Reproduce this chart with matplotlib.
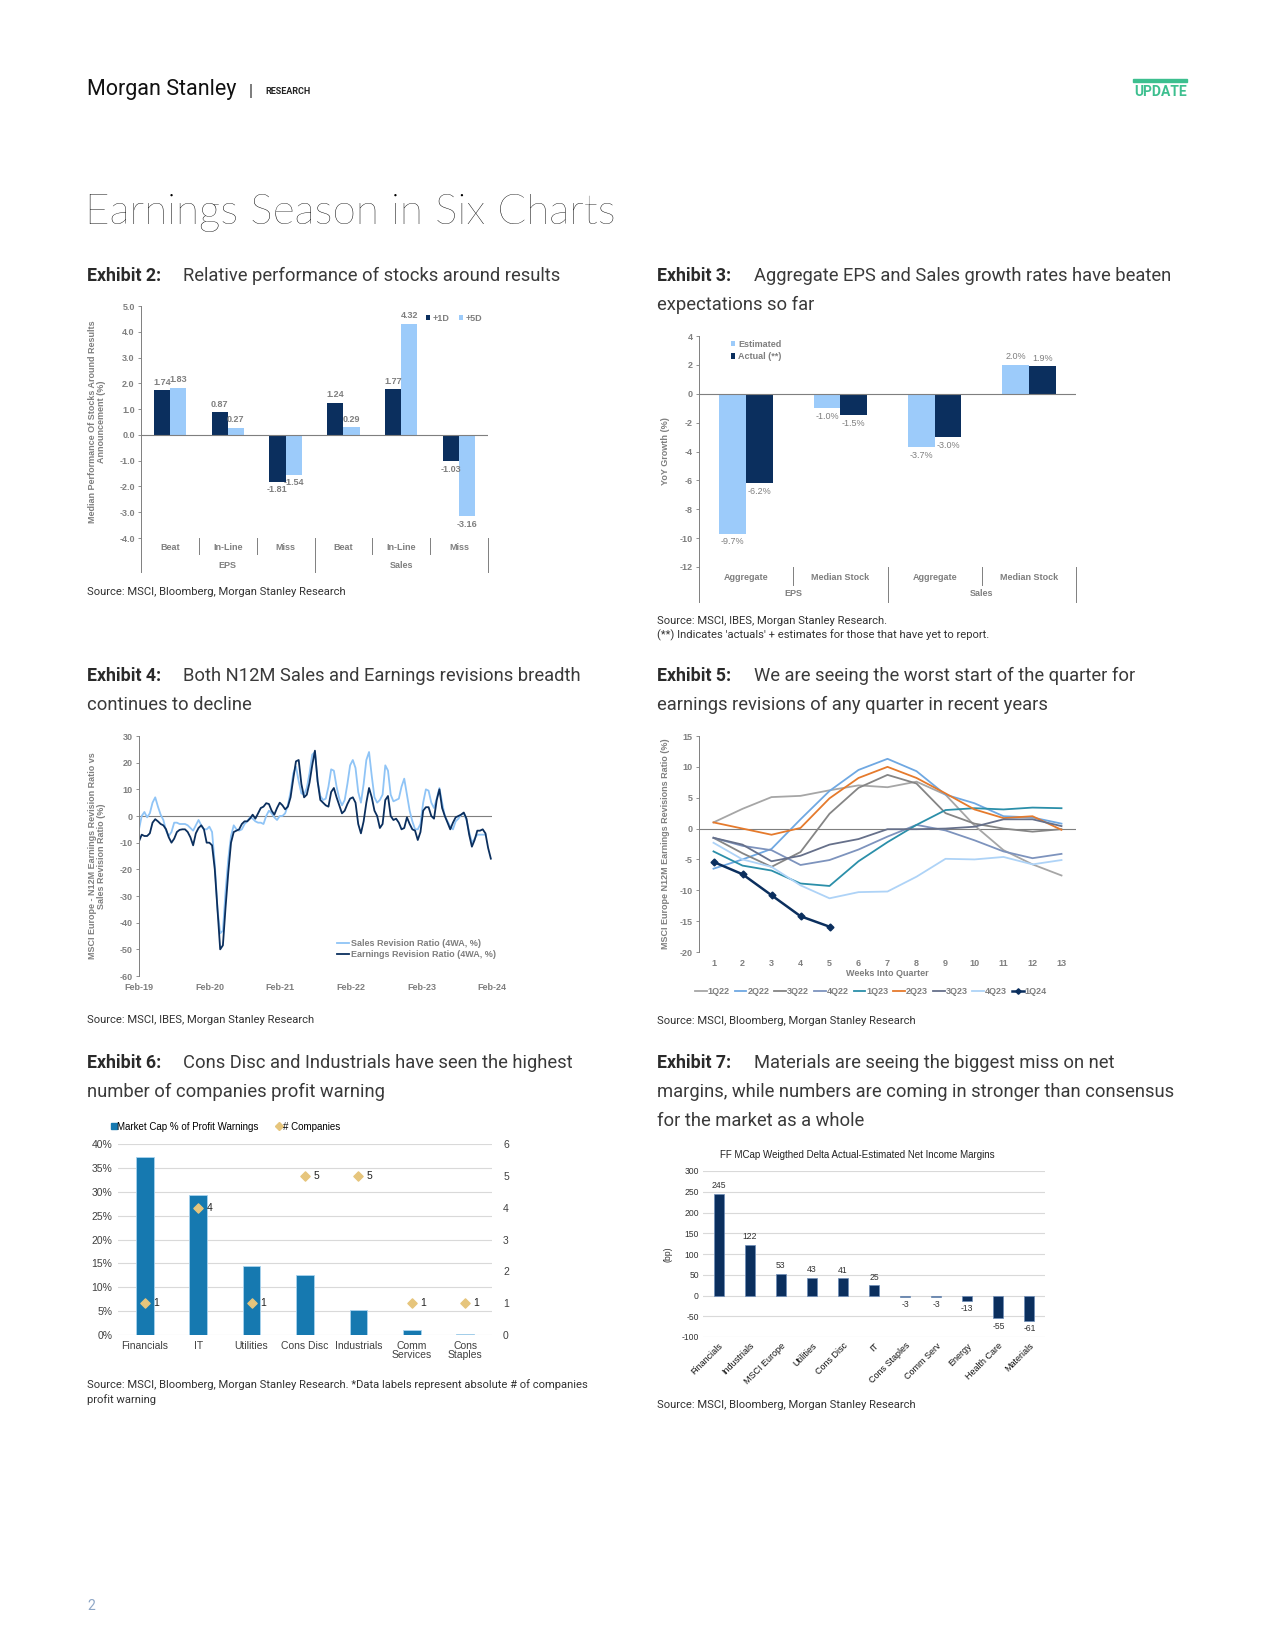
import matplotlib.pyplot as plt
import matplotlib.transforms as mtransforms
from matplotlib.lines import Line2D
from matplotlib.patches import Rectangle
import numpy as np
import pandas as pd

# ---------------- data ----------------
# Exhibit 2
ex2_cats = ['Beat', 'In-Line', 'Miss', 'Beat', 'In-Line', 'Miss']
ex2_groups = ['EPS', 'Sales']
ex2_1d = [1.74, 0.87, -1.81, 1.24, 1.77, -1.03]
ex2_5d = [1.83, 0.27, -1.54, 0.29, 4.32, -3.16]

# Exhibit 3
ex3_cats = ['Aggregate', 'Median Stock', 'Aggregate', 'Median Stock']
ex3_groups = ['EPS', 'Sales']
ex3_est = [-9.7, -1.0, -3.7, 2.0]
ex3_act = [-6.2, -1.5, -3.0, 1.9]

# Exhibit 4 - fortnightly readings starting Feb-19
ex4_start = '2019-02-01'
ex4_earn = [-9.5, -7, -7.5, -7.5, -6.5, -2.5, -1.2, -2, -3, -3.5,
            -5, -8, -10, -8.5, -6, -5.2, -5, -5, -6, -8,
            -11, -6.5, -4.5, -3.5, -5, -10, -10, -11, -20, -35,
            -50, -48.5, -34, -21, -10, -6, -5.5, -5, -3, -2,
            -2, -1, 0.5, -1, 1, 3, 3.5, 4.8, 4.5, 2,
            0.5, 3, 5, 4, 2.5, 3.5, 7, 14, 20.5, 21,
            12, 7, 8, 12.5, 19, 24.5, 13, 6, 5, 4,
            3.5, 9, 10.5, 7, 4, 1, 2, 4.5, 6.5, 7,
            5, -3, -6.5, -2, 5, 10.5, 7, 2, 0, -4.5,
            -3, 6, 7.5, 0, -1.5, -1, -2.5, -5, -4.5, -0.5,
            -3, -5, -5.5, -9, -6, 2, 3.3, 3.3, 0, -1,
            6, 10, 3, 0, -2.5, -5, -2.5, -0.5, 0, 0.5,
            1.3, -1, -7, -11.5, -9, -5.5, -5.5, -5, -6.5, -12,
            -16]
ex4_sales = [-5, 0, 1.5, -0.5, 1, 5, 7, 3.5, 0.5, -1.5,
             -5.5, -7.5, -6, -2.5, -2.5, -3, -3, -3, -3.5, -4.5,
             -5.5, -3.5, -1.5, -3.5, -5, -5, -4, -6, -18, -35,
             -44, -43, -28, -16, -7.5, -3.5, -5, -5.5, -5, -3,
             -2, -0.5, -1, -2, -2.5, -2.5, -3, 0, 2, 1,
             -0.5, -1.5, 0, 0, 1, 4, 9, 16, 18.5, 13,
             8.5, 8, 10.5, 16, 23, 24, 13, 7.5, 6, 6.5,
             11, 17.5, 17, 11, 6.5, 4, 6, 12, 19, 21,
             18, 9, 5, 12, 21, 24, 15, 7, 5, 6,
             8, 19, 17, 8, 5.5, 6, 6.5, 11, 14, 8,
             2, -2, -5, -5, -3, 5, 10, 9.5, 5, 3,
             6.5, 10.5, 5, 0, -2, -4, -5, -2, -1, 0.5,
             1, -1.5, -6, -10, -8.5, -7, -7, -7, -7]

# Exhibit 5
ex5_weeks = list(range(1, 14))
q1_22 = [1, 3.2, 5.1, 5.3, 6.2, 7, 6.7, 7.6, 5.5, 0.5, -3.5, -5.8, -7.6]
q2_22 = [-6.5, -5, -3.3, 1.5, 6.1, 9.5, 11.3, 9.3, 5.5, 4.1, 2, 1.8, 0.8]
q3_22 = [-1.5, -4, -6.2, -3.8, 2.4, 6.6, 8.7, 7.3, 2.5, 0.8, 0, -0.5, -0.1]
q4_22 = [-1.5, -2.8, -3.5, -5.9, -5.1, -3.4, -1.3, 0.6, -0.3, -1.9, -3.7, -4.8, -4.1]
q1_23 = [-3.7, -6, -6.8, -8.9, -9.3, -5.3, -2.2, 0.6, 3, 3.3, 3.1, 3.4, 3.3]
q2_23 = [1, 0, -1, 0.1, 4.9, 8.2, 10, 8.2, 5.7, 3.1, 1.7, 2, -0.2]
q3_23 = [-1.5, -2.6, -5.3, -4.4, -2.6, -1.7, -0.1, -0.1, 0, 0.3, 1.5, 1.5, 0.4]
q4_23 = [-2.3, -5, -6.2, -9.2, -11.3, -10.3, -10.2, -7.8, -4.9, -5, -4.6, -5.8, -5.1]
q1_24 = [-5.4, -7.4, -10.8, -14.2, -15.9]
ex5_names = ['1Q22', '2Q22', '3Q22', '4Q22', '1Q23', '2Q23', '3Q23', '4Q23', '1Q24']

# Exhibit 6
ex6_cats = ['Financials', 'IT', 'Utilities', 'Cons Disc', 'Industrials',
            'Comm\nServices', 'Cons\nStaples']
ex6_mcap = [0.373, 0.293, 0.144, 0.126, 0.053, 0.011, 0.003]
ex6_count = [1, 4, 1, 5, 5, 1, 1]

# Exhibit 7
ex7_cats = ['Financials', 'Industrials', 'MSCI Europe', 'Utilities', 'Cons Disc', 'IT',
            'Cons Staples', 'Comm Serv', 'Energy', 'Health Care', 'Materials']
ex7_vals = [245, 122, 53, 43, 41, 25, -3, -3, -13, -55, -61]

# ---------------- style ----------------
plt.rcParams['font.family'] = ['Liberation Sans', 'DejaVu Sans']
NAVY = '#0b2f5e'
LIGHT = '#9ccbfa'
GRAY = '#7f7f7f'
HEAD = ['Roboto', 'DejaVu Sans']

W, H = 1275, 1650
fig = plt.figure(figsize=(W / 100, H / 100), dpi=100)


def add_ax(l, t, r, b):
    return fig.add_axes([l / W, 1 - b / H, (r - l) / W, (b - t) / H])


def ftext(x, y, s, **kw):
    kw.setdefault('va', 'center')
    return fig.text(x / W, 1 - y / H, s, **kw)


def heading(x, x2, y, num, lines):
    ftext(x, y, f'Exhibit {num}:', fontsize=12.8, weight='bold', family=HEAD, color='#2a2a2a')
    ftext(x2, y, lines[0], fontsize=13.2, family=HEAD, color='#3a3a3a')
    for i, ln in enumerate(lines[1:]):
        ftext(x, y + 29 * (i + 1), ln, fontsize=13.2, family=HEAD, color='#3a3a3a')


def source(x, y, s):
    ftext(x, y, s, fontsize=8.1, family=HEAD, color='#333333')


def grouped_axis(ax, cats, groups, h_px, cat_off, grp_off, short, long_):
    tr = mtransforms.blended_transform_factory(ax.transData, ax.transAxes)
    n = len(cats)
    per = n // len(groups)
    for i, c in enumerate(cats):
        ax.text(i, -cat_off / h_px, c, transform=tr, ha='center', va='center',
                fontsize=6.5, weight='bold', color=GRAY)
    for g, name in enumerate(groups):
        ax.text(g * per + (per - 1) / 2, -grp_off / h_px, name, transform=tr,
                ha='center', va='center', fontsize=6.5, weight='bold', color=GRAY)
    for b in np.arange(-0.5, n, 1):
        ln = long_ if (b + 0.5) % per == 0 else short
        ax.plot([b, b], [0, -ln / h_px], transform=tr, color=GRAY, lw=0.7, clip_on=False)


def bar_labels(ax, xs, vals, fmt, size=6.5, weight='bold', color=GRAY):
    for xx, v in zip(xs, vals):
        ax.annotate(fmt.format(v), (xx, v), xytext=(0, 2.5 if v >= 0 else -2.5),
                    textcoords='offset points', ha='center',
                    va='bottom' if v >= 0 else 'top', fontsize=size, weight=weight, color=color)


def gray_axes(ax):
    for s in ['top', 'right', 'bottom']:
        ax.spines[s].set_visible(False)
    ax.spines['left'].set_color(GRAY)
    ax.spines['left'].set_linewidth(0.7)
    ax.tick_params(axis='y', length=2.5, width=0.6, color=GRAY, pad=2)
    ax.tick_params(axis='x', length=0)


# ---------------- header ----------------
ftext(87, 90, 'Morgan Stanley', fontsize=15.5, family=HEAD, color='#111111')
ftext(249, 91, '|', fontsize=12, family=HEAD, color='#333333')
ftext(265, 91, 'RESEARCH', fontsize=6.5, weight='bold', family=HEAD, color='#222222')
fig.add_artist(Rectangle((1133 / W, 1 - 82 / H), 54 / W, 3 / H, color='#3dbf8f', transform=fig.transFigure))
ftext(1187, 92, 'UPDATE', fontsize=10, weight='bold', family=HEAD, color='#3dbf8f', ha='right')
ftext(85, 213, 'Earnings Season in Six Charts', fontsize=30.5, family=['Lato', 'Open Sans'],
      weight='light', color='#000000')

# ---------------- Exhibit 2 ----------------
heading(87, 183, 276, 2, ['Relative performance of stocks around results'])
ax = add_ax(141, 306, 488, 538)
x = np.arange(len(ex2_cats))
w = 0.28
ax.bar(x - w / 2, ex2_1d, w, color=NAVY, label='+1D')
ax.bar(x + w / 2, ex2_5d, w, color=LIGHT, label='+5D')
ax.axhline(0, color=GRAY, lw=0.8)
ax.set_xlim(-0.5, len(ex2_cats) - 0.5)
ax.set_ylim(-4, 5)
yt = np.arange(-4, 5.01, 1)
ax.set_yticks(yt, labels=[f'{v:.1f}' for v in yt], fontsize=6.5, weight='bold', color=GRAY)
ax.set_xticks([])
gray_axes(ax)
bar_labels(ax, x - w / 2, ex2_1d, '{:.2f}')
bar_labels(ax, x + w / 2, ex2_5d, '{:.2f}')
grouped_axis(ax, ex2_cats, ex2_groups, 232, 10, 27, 16, 34)
ax.set_ylabel('Median Performance Of Stocks Around Results\nAnnouncement (%)',
              fontsize=6.5, weight='bold', color=GRAY, linespacing=1.0)
ax.yaxis.set_label_coords(-0.1, 0.5)
ax.legend(ncol=2, loc='upper right', bbox_to_anchor=(1.0, 0.99), frameon=False,
          prop={'size': 6.5, 'weight': 'bold'}, labelcolor=GRAY, handlelength=0.5,
          handleheight=0.5, columnspacing=1.0, handletextpad=0.3, borderaxespad=0.2)
source(87, 592, 'Source: MSCI, Bloomberg, Morgan Stanley Research')

# ---------------- Exhibit 3 ----------------
heading(657, 754, 276, 3, ['Aggregate EPS and Sales growth rates have beaten', 'expectations so far'])
ax = add_ax(699, 336, 1076, 567)
x = np.arange(len(ex3_cats))
w = 0.285
ax.bar(x - w / 2, ex3_est, w, color=LIGHT, label='Estimated')
ax.bar(x + w / 2, ex3_act, w, color=NAVY, label='Actual (**)')
ax.axhline(0, color=GRAY, lw=0.8)
ax.set_xlim(-0.5, len(ex3_cats) - 0.5)
ax.set_ylim(-12, 4)
yt = np.arange(-12, 4.01, 2)
ax.set_yticks(yt, labels=[f'{v:.0f}' for v in yt], fontsize=6.5, weight='bold', color=GRAY)
ax.set_xticks([])
gray_axes(ax)
bar_labels(ax, x - w / 2, ex3_est, '{:.1f}%', weight='normal')
bar_labels(ax, x + w / 2, ex3_act, '{:.1f}%', weight='normal')
grouped_axis(ax, ex3_cats, ex3_groups, 231, 10, 27, 18, 35)
ax.set_ylabel('YoY Growth (%)', fontsize=6.5, weight='bold', color=GRAY)
ax.yaxis.set_label_coords(-0.077, 0.5)
ax.legend(loc='upper left', bbox_to_anchor=(0.075, 1.0), frameon=False,
          prop={'size': 6.5, 'weight': 'bold'}, labelcolor=GRAY, handlelength=0.5,
          handleheight=0.5, handletextpad=0.3, labelspacing=0.4, borderaxespad=0.0)
source(657, 621, 'Source: MSCI, IBES, Morgan Stanley Research.')
source(657, 635, "(**) Indicates 'actuals' + estimates for those that have yet to report.")

# ---------------- Exhibit 4 ----------------
heading(87, 183, 676, 4, ['Both N12M Sales and Earnings revisions breadth', 'continues to decline'])
ax = add_ax(139, 736, 492, 976)
d_earn = pd.date_range(ex4_start, periods=len(ex4_earn), freq='14D')
d_sales = pd.date_range(ex4_start, periods=len(ex4_sales), freq='14D')
ax.axhline(0, color=GRAY, lw=0.8)
ax.plot(d_sales, ex4_sales, color='#8fc4f6', lw=1.3, label='Sales Revision Ratio (4WA, %)')
ax.plot(d_earn, ex4_earn, color=NAVY, lw=1.3, label='Earnings Revision Ratio (4WA, %)')
ax.set_xlim(pd.Timestamp('2019-02-01'), pd.Timestamp('2024-02-01'))
ax.set_ylim(-60, 30)
yt = np.arange(-60, 30.1, 10)
ax.set_yticks(yt, labels=[f'{v:.0f}' for v in yt], fontsize=6.5, weight='bold', color=GRAY)
xt = pd.date_range('2019-02-01', '2024-02-01', freq='12MS')
ax.set_xticks(xt, labels=[d.strftime('%b-%y') for d in xt], fontsize=6.5, weight='bold', color=GRAY)
gray_axes(ax)
ax.tick_params(axis='x', pad=5)
ax.set_ylabel('MSCI Europe - N12M Earnings Revision Ratio vs\nSales Revision Ratio (%)',
              fontsize=6.5, weight='bold', color=GRAY, linespacing=1.0)
ax.yaxis.set_label_coords(-0.093, 0.5)
ax.legend(loc='upper left', bbox_to_anchor=(0.56, 0.155), frameon=False,
          prop={'size': 6.5, 'weight': 'bold'}, labelcolor=GRAY, handlelength=1.4,
          handletextpad=0.2, labelspacing=0.25, borderaxespad=0.0, borderpad=0.0)
source(87, 1020, 'Source: MSCI, IBES, Morgan Stanley Research')

# ---------------- Exhibit 5 ----------------
heading(657, 754, 676, 5, ['We are seeing the worst start of the quarter for',
                           'earnings revisions of any quarter in recent years'])
ax = add_ax(699, 736, 1076, 952)
ax.axhline(0, color=GRAY, lw=0.8)
ex5_series = [q1_22, q2_22, q3_22, q4_22, q1_23, q2_23, q3_23, q4_23]
ex5_colors = ['#a6a6a6', '#6fa8e2', '#858585', '#7d93bd', '#2b8fa9', '#e57a2c', '#66708a', '#aed3f7']
for name, vals, col in zip(ex5_names[:-1], ex5_series, ex5_colors):
    ax.plot(ex5_weeks[:len(vals)], vals, color=col, lw=1.3, label=name)
ax.plot(ex5_weeks[:len(q1_24)], q1_24, color=NAVY, lw=1.8, marker='D', ms=3.5, label=ex5_names[-1])
ax.set_xlim(0.5, 13.5)
ax.set_ylim(-20, 15)
yt = np.arange(-20, 15.1, 5)
ax.set_yticks(yt, labels=[f'{v:.0f}' for v in yt], fontsize=6.5, weight='bold', color=GRAY)
ax.set_xticks(ex5_weeks, labels=[str(v) for v in ex5_weeks], fontsize=6.5, weight='bold', color=GRAY)
gray_axes(ax)
ax.tick_params(axis='x', pad=5)
ax.set_xlabel('Weeks Into Quarter', fontsize=6.5, weight='bold', color=GRAY, labelpad=1)
ax.set_ylabel('MSCI Europe N12M Earnings Revisions Ratio (%)', fontsize=6.5, weight='bold', color=GRAY)
ax.yaxis.set_label_coords(-0.077, 0.5)
ax.legend(ncol=9, loc='center', bbox_to_anchor=(0.456, -0.185), frameon=False,
          prop={'size': 6.5, 'weight': 'bold'}, labelcolor=GRAY, handlelength=1.3,
          handletextpad=0.1, columnspacing=0.55, borderaxespad=0.0, markerscale=0.8)
source(657, 1021, 'Source: MSCI, Bloomberg, Morgan Stanley Research')

# ---------------- Exhibit 6 ----------------
heading(87, 183, 1063, 6, ['Cons Disc and Industrials have seen the highest',
                           'number of companies profit warning'])
ax = add_ax(118, 1144, 492, 1335)
x = np.arange(len(ex6_cats))
ax.bar(x, ex6_mcap, 0.33, color='#1679b0', edgecolor='#a9d3ee', lw=0.6, zorder=3,
       label='Market Cap % of Profit Warnings')
ax.set_xlim(-0.5, len(ex6_cats) - 0.5)
ax.set_ylim(0, 0.4)
yt = np.arange(0, 0.401, 0.05)
ax.set_yticks(yt, labels=[f'{v:.0%}' for v in yt], fontsize=7.5, color='#404040')
ax.set_xticks(x, labels=ex6_cats, fontsize=7.5, color='#404040', linespacing=0.95)
ax.grid(axis='y', color='#d9d9d9', lw=0.8, zorder=0)
ax.set_axisbelow(True)
for s in ax.spines.values():
    s.set_visible(False)
ax.tick_params(length=0, pad=4)
ax2 = ax.twinx()
ax2.scatter(x, ex6_count, marker='D', s=22, color='#e6c57c', zorder=4, label='# Companies')
for xx, c in zip(x, ex6_count):
    ax2.annotate(str(c), (xx, c), xytext=(6, 0), textcoords='offset points', va='center',
                 fontsize=7.5, color='#222222')
ax2.set_ylim(0, 6)
ax2.set_yticks(range(7), labels=[str(v) for v in range(7)], fontsize=7.5, color='#404040')
for s in ax2.spines.values():
    s.set_visible(False)
ax2.tick_params(length=0, pad=8)
h1 = [Line2D([], [], marker='s', ls='none', color='#1679b0', ms=4)]
h2 = [Line2D([], [], marker='D', ls='none', color='#e6c57c', ms=4)]
ax.legend(h1 + h2, ['Market Cap % of Profit Warnings', '# Companies'], ncol=2, loc='center left',
          bbox_to_anchor=(-0.03, 1.09), frameon=False, fontsize=7, handlelength=0.6,
          handletextpad=0.1, columnspacing=1.8, borderaxespad=0)
source(87, 1385, 'Source: MSCI, Bloomberg, Morgan Stanley Research. *Data labels represent absolute # of companies')
source(87, 1400, 'profit warning')

# ---------------- Exhibit 7 ----------------
heading(657, 754, 1063, 7, ['Materials are seeing the biggest miss on net',
                            'margins, while numbers are coming in stronger than consensus',
                            'for the market as a whole'])
ax = add_ax(703, 1171, 1045, 1337)
x = np.arange(len(ex7_cats))
ax.bar(x, ex7_vals, 0.32, color=NAVY, edgecolor='#6d8db8', lw=0.5, zorder=3)
ax.set_xlim(-0.5, len(ex7_cats) - 0.5)
ax.set_ylim(-100, 300)
yt = np.arange(-100, 300.1, 50)
ax.set_yticks(yt, labels=[f'{v:.0f}' for v in yt], fontsize=6.2, color='#333333')
ax.set_xticks(x, labels=ex7_cats, fontsize=6.5, color='#111111', rotation=45, ha='right',
              rotation_mode='anchor')
ax.grid(axis='y', color='#d9d9d9', lw=0.8, zorder=0)
ax.set_axisbelow(True)
for s in ax.spines.values():
    s.set_visible(False)
ax.tick_params(length=0, pad=3)
bar_labels(ax, x, ex7_vals, '{:.0f}', size=6.2, weight='normal', color='#333333')
ax.set_ylabel('(bp)', fontsize=6.2, color='#333333')
ax.yaxis.set_label_coords(-0.088, 0.5)
ax.text(0.45, 1.096, 'FF MCap Weigthed Delta Actual-Estimated Net Income Margins',
        transform=ax.transAxes, ha='center', va='center', fontsize=7, color='#222222')
source(657, 1405, 'Source: MSCI, Bloomberg, Morgan Stanley Research')

# page number
ftext(87, 1606, '2', fontsize=10, family=HEAD, color='#8ea6c6')

fig.savefig('out.png', dpi=100)
